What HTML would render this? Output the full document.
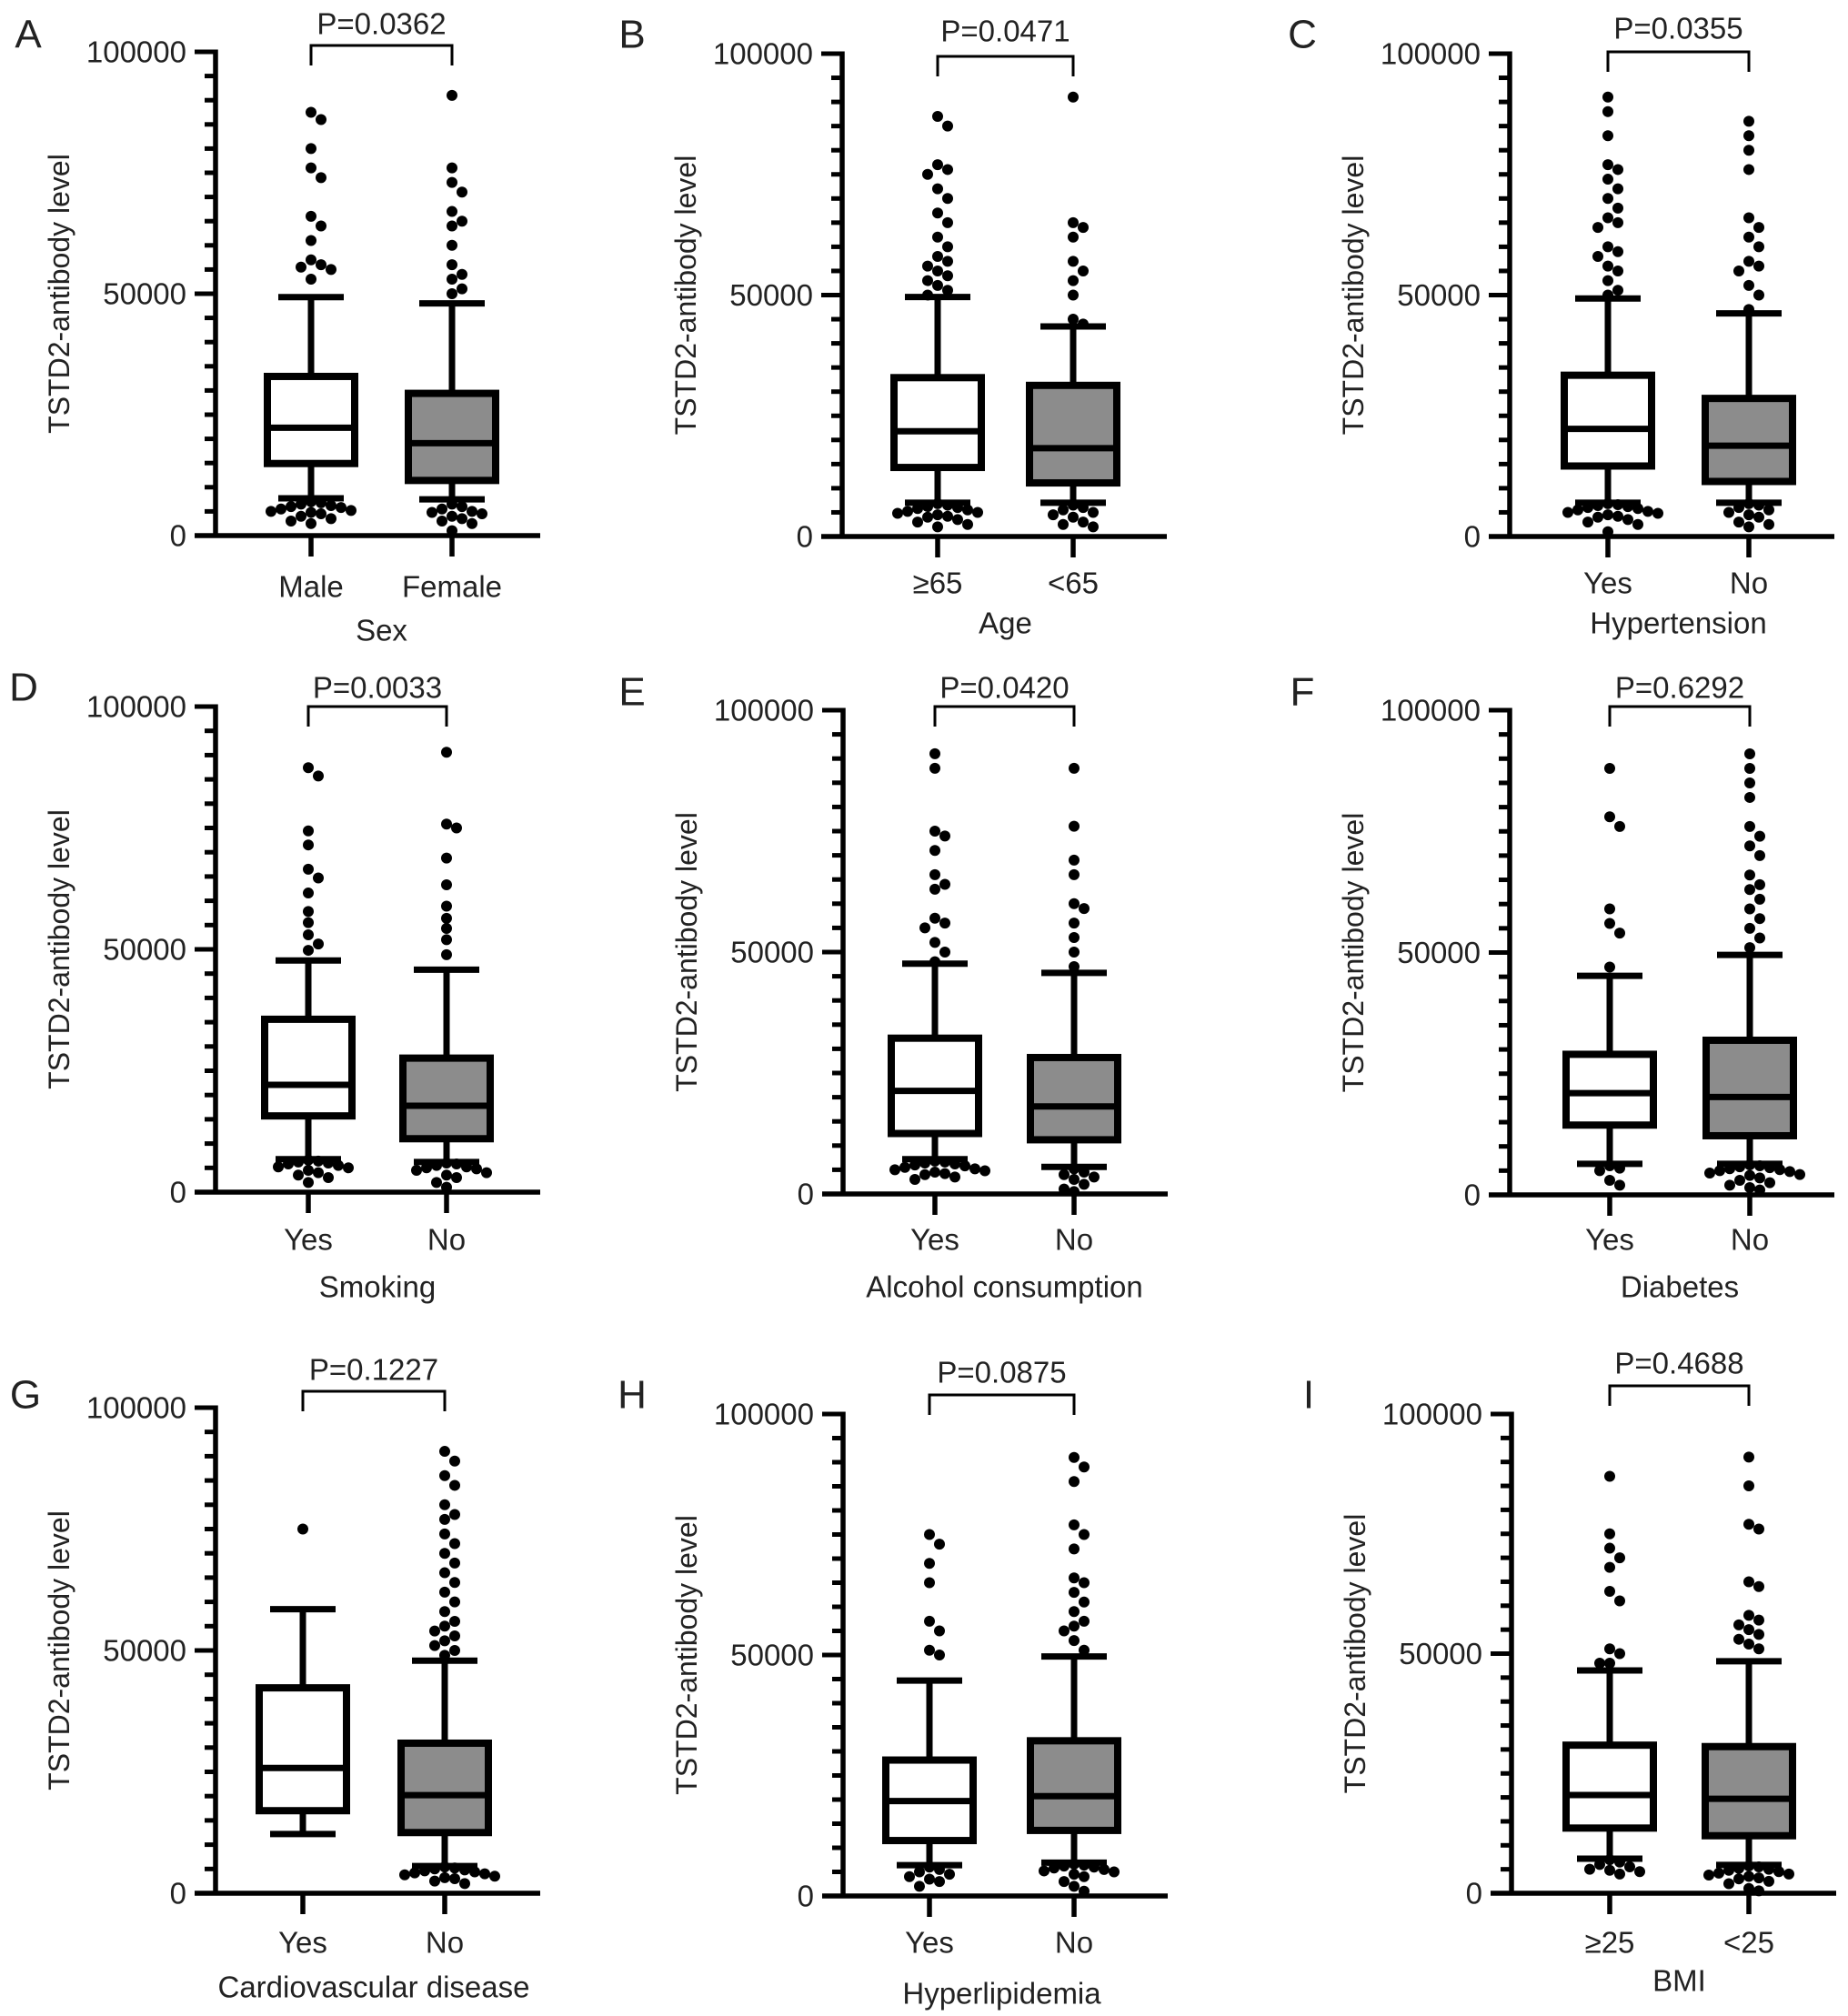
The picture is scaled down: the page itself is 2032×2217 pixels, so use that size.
<!DOCTYPE html>
<html><head><meta charset="utf-8">
<style>
html,body{margin:0;padding:0;background:#fff;}
svg{display:block;font-family:"Liberation Sans",Arial,sans-serif;}
text{fill:#222;}
</style></head>
<body>
<svg id="fig" width="2032" height="2217" viewBox="0 0 2032 2217" xmlns="http://www.w3.org/2000/svg"></svg>
<script>
// ---- data (values in antibody level units) ----
const panelLetters = ["A","B","C","D","E","F","G","H","I"];
const axisTitles = ["Sex","Age","Hypertension","Smoking","Alcohol consumption","Diabetes","Cardiovascular disease","Hyperlipidemia","BMI"];
const groupLabels = [["Male","Female"],["≥65","<65"],["Yes","No"],["Yes","No"],["Yes","No"],["Yes","No"],["Yes","No"],["Yes","No"],["≥25","<25"]];
const pValues = ["P=0.0362","P=0.0471","P=0.0355","P=0.0033","P=0.0420","P=0.6292","P=0.1227","P=0.0875","P=0.4688"];
const yTicks = [0,50000,100000];
const yTickLabels = ["0","50000","100000"];
// box stats per panel: [group1, group2], each [whiskerLow, q1, median, q3, whiskerHigh]
const boxStats = [
 [[7700,14900,22300,32900,49300],[7500,11400,19100,29400,48000]],
 [[7000,14300,21800,32900,49600],[7000,11100,18300,31300,43500]],
 [[7000,14600,22300,33400,49300],[7000,11400,18800,28600,46200]],
 [[6800,15700,22100,35600,47700],[6200,11000,17800,27600,45800]],
 [[7200,12500,21300,32200,47600],[5600,11200,18100,28200,45700]],
 [[6400,14400,21000,29000,45200],[6400,12200,20200,31900,49500]],
 [[12200,17000,25800,42300,58500],[5600,12500,20200,30900,47900]],
 [[6400,11500,19700,28200,44700],[6900,13600,20700,32200,49700]],
 [[7200,13600,20500,30900,46500],[5900,12000,19700,30600,48400]]
];
const highOutliers = [
 [[87500,86000,80000,76000,74000,66000,64000,61000,57000,56000,55500,55000,53000],[91000,76000,73000,71000,67000,65000,64000,60000,56000,54000,53000,51000,50000]],
 [[87000,85000,77000,76000,75000,72000,70000,67000,65000,62000,60000,58000,57000,56000,55000,54000,53000,52000,51000,50000],[91000,65000,64000,62000,57000,55000,53000,50000,45000,44000]],
 [[91000,88000,83000,77000,76000,74000,72000,70000,68000,66000,65000,64000,60000,59000,58000,56000,55000,53000,51000,50000],[86000,83000,80000,76000,66000,64000,62000,60000,57000,56000,55000,52000,50000,47000]],
 [[87400,85700,74400,71500,66500,64700,61600,57800,55500,53000,51100,49800],[90600,75800,75000,68800,63300,58900,56400,54300,52000,48900]],
 [[91000,88000,75000,74000,71000,66000,64000,63000,57000,56000,55000,52000,50000,48000],[88000,76000,69000,66000,60000,59000,56000,53000,50000,47000]],
 [[88000,78000,76000,59000,56000,54000,47000],[91000,88000,85000,82000,76000,74000,72000,70000,66000,64000,63000,61000,59000,57000,55000,53000,51000]],
 [[75000],[91000,89000,86000,84000,80000,78000,77000,74000,72000,70000,68000,66000,64000,62000,60000,58000,56000,55000,54000,53000,52000,51000,50000,49000]],
 [[75000,73000,69000,65000,57000,55000,51000,50000],[91000,89000,86000,77000,75000,72000,66000,65000,63000,61000,59000,57000,56000,55000,53000,51000]],
 [[87000,75000,72000,70000,68000,63000,61000,51000,50000,48000,48000],[91000,85000,77000,76000,65000,64000,58000,57000,56000,55000,54000,53000,52000,51000]]
];
const lowOutliers = [
 [[7000,6800,6500,6200,6000,5800,5500,5200,5000,4800,4500,4000,3500,3000,2500],[6500,6000,5500,5000,4800,4500,4000,3500,3000,2500,1000]],
 [[6800,6500,6200,6000,5800,5500,5200,5000,4800,4500,4200,4000,3500,3000,2500,2000],[6500,6000,5500,5000,4500,4000,3000,2500,2000]],
 [[6800,6600,6400,6200,6000,5800,5500,5200,5000,4800,4500,4200,4000,3500,3000,2500,1000],[6800,6500,6000,5500,5000,4500,4000,3000,2500,2000]],
 [[6600,6400,6200,6000,5800,5500,5200,5000,4500,4000,3500,3000,2000],[6000,5800,5500,5200,5000,4800,4500,4000,3500,3000,2000,1000]],
 [[6800,6600,6400,6200,6000,5800,5500,5200,5000,4800,4500,4200,4000,3500,3000],[5200,4500,4000,3500,3000,2000,1000,500]],
 [[6000,5500,5000,3000,2000],[6200,6000,5800,5600,5400,5200,5000,4800,4500,4200,4000,3500,3000,2500,2000,1500,1000]],
 [[],[5400,5200,5000,4800,4600,4400,4200,4000,3800,3500,3200,3000,2500,2000]],
 [[6000,5500,5000,4500,4000,3500,3000,2000],[6600,6400,6200,6000,5800,5500,5200,5000,4500,4000,3000,2000,1000]],
 [[7000,6500,6000,5500,5000,4800,4500,4000],[5700,5500,5200,5000,4800,4500,4200,4000,3800,3500,3200,3000,2500,2000,1000,500]]
];
// ---- layout ----
const axisX = [237,926,1660,237,927,1660,237,927,1662];
const axisTop = [57,59,59,777,781,781,1548,1555,1555];
const axisZero = [589,590,590,1311,1313,1314,2082,2085,2082];
const groupX = [[342,497],[1031,1180],[1768,1923],[339,491],[1028,1181],[1770,1924],[333,489],[1022,1181],[1770,1923]];
const pY = [26,34,31,756,756,756,1506,1509,1499];
const bracketTop = [50,62,57,777,777,777,1530,1534,1524];
const catY = [645,641,641,1363,1363,1363,2136,2136,2136];
const titleY = [693,685,685,1415,1415,1415,2185,2192,2178];
const letterPos = [[31,38],[695,38],[1432,38],[26,756],[695,761],[1432,761],[28,1534],[695,1534],[1439,1534]];

const NS="http://www.w3.org/2000/svg";
const svg=document.getElementById('fig');
function mk(tag,attrs,parent){const e=document.createElementNS(NS,tag);for(const k in attrs)e.setAttribute(k,attrs[k]);(parent||svg).appendChild(e);return e;}

for(let p=0;p<9;p++){
  const g=mk('g',{});
  
  
  const ax=axisX[p], top=axisTop[p], zero=axisZero[p];
  const yS=v=>zero-(v/100000)*(zero-top);
  const L=mk('text',{x:letterPos[p][0],y:letterPos[p][1],'font-size':44,'text-anchor':'middle','dominant-baseline':'central'},g);
  L.textContent=panelLetters[p];
  
  
  const ya=mk('line',{x1:ax,y1:top-2.5,x2:ax,y2:zero+2.5,stroke:'#000','stroke-width':5.5},g);
  
  
  for(let i=0;i<=20;i++){
    const v=i*5000, major=(i%10===0);
    mk('line',{x1:ax-(major?23:12),y1:yS(v),x2:ax,y2:yS(v),stroke:'#000','stroke-width':5},g);
  }
  yTicks.forEach((v,i)=>{
    const t=mk('text',{x:ax-32,y:yS(v),'font-size':33,'text-anchor':'end','dominant-baseline':'central'},g);
    t.textContent=yTickLabels[i];
    
    
  });
  const ytx=ax-172;
  const yt=mk('text',{x:ytx,y:(top+zero)/2,'font-size':32,'text-anchor':'middle','dominant-baseline':'central',transform:`rotate(-90 ${ytx} ${(top+zero)/2})`},g);
  yt.textContent='TSTD2-antibody level';
  
  
  const xa=mk('line',{x1:ax-23,y1:zero,x2:ax+357,y2:zero,stroke:'#000','stroke-width':5.5},g);
  
  
  for(let k=0;k<2;k++){
    const cx=groupX[p][k];
    mk('line',{x1:cx,y1:zero,x2:cx,y2:zero+23,stroke:'#000','stroke-width':5.5},g);
    const ct=mk('text',{x:cx,y:catY[p],'font-size':33,'text-anchor':'middle','dominant-baseline':'central'},g);
    ct.textContent=groupLabels[p][k];
    
    
    const s=boxStats[p][k], hw=48, cw=36;
    const bg=mk('g',{},g);
    
    
    mk('line',{x1:cx,y1:yS(s[0]),x2:cx,y2:yS(s[1]),stroke:'#000','stroke-width':7},bg);
    mk('line',{x1:cx,y1:yS(s[3]),x2:cx,y2:yS(s[4]),stroke:'#000','stroke-width':7},bg);
    mk('line',{x1:cx-cw,y1:yS(s[0]),x2:cx+cw,y2:yS(s[0]),stroke:'#000','stroke-width':7},bg);
    mk('line',{x1:cx-cw,y1:yS(s[4]),x2:cx+cw,y2:yS(s[4]),stroke:'#000','stroke-width':7},bg);
    mk('rect',{x:cx-hw,y:yS(s[3]),width:hw*2,height:yS(s[1])-yS(s[3]),fill:k===0?'#fff':'#8c8c8c',stroke:'#000','stroke-width':8},bg);
    mk('line',{x1:cx-hw,y1:yS(s[2]),x2:cx+hw,y2:yS(s[2]),stroke:'#000','stroke-width':7},bg);
    const pts=highOutliers[p][k].concat(lowOutliers[p][k]);
    const placed=[]; const r=6;
    pts.forEach(v=>{
      const py=yS(v); let px=cx;
      for(let j=0;j<20;j++){
        const off=(j===0?0:Math.ceil(j/2)*11*(j%2?1:-1));
        const tx=cx+off;
        if(placed.every(q=>Math.hypot(q[0]-tx,q[1]-py)>=2*r-1)){px=tx;break;}
      }
      placed.push([px,py]);
      const c=mk('circle',{cx:px,cy:py,r:r,fill:'#000'},g);
      
      
    });
  }
  const bt=bracketTop[p], x1=groupX[p][0], x2=groupX[p][1];
  const br=mk('path',{d:`M${x1},${bt+22} L${x1},${bt} L${x2},${bt} L${x2},${bt+22}`,fill:'none',stroke:'#000','stroke-width':3},g);
  
  
  const pt=mk('text',{x:(x1+x2)/2,y:pY[p],'font-size':33,'text-anchor':'middle','dominant-baseline':'central'},g);
  pt.textContent=pValues[p];
  
  
  const xt=mk('text',{x:(x1+x2)/2,y:titleY[p],'font-size':33,'text-anchor':'middle','dominant-baseline':'central'},g);
  xt.textContent=axisTitles[p];
  
  
}
</script>
</body></html>
